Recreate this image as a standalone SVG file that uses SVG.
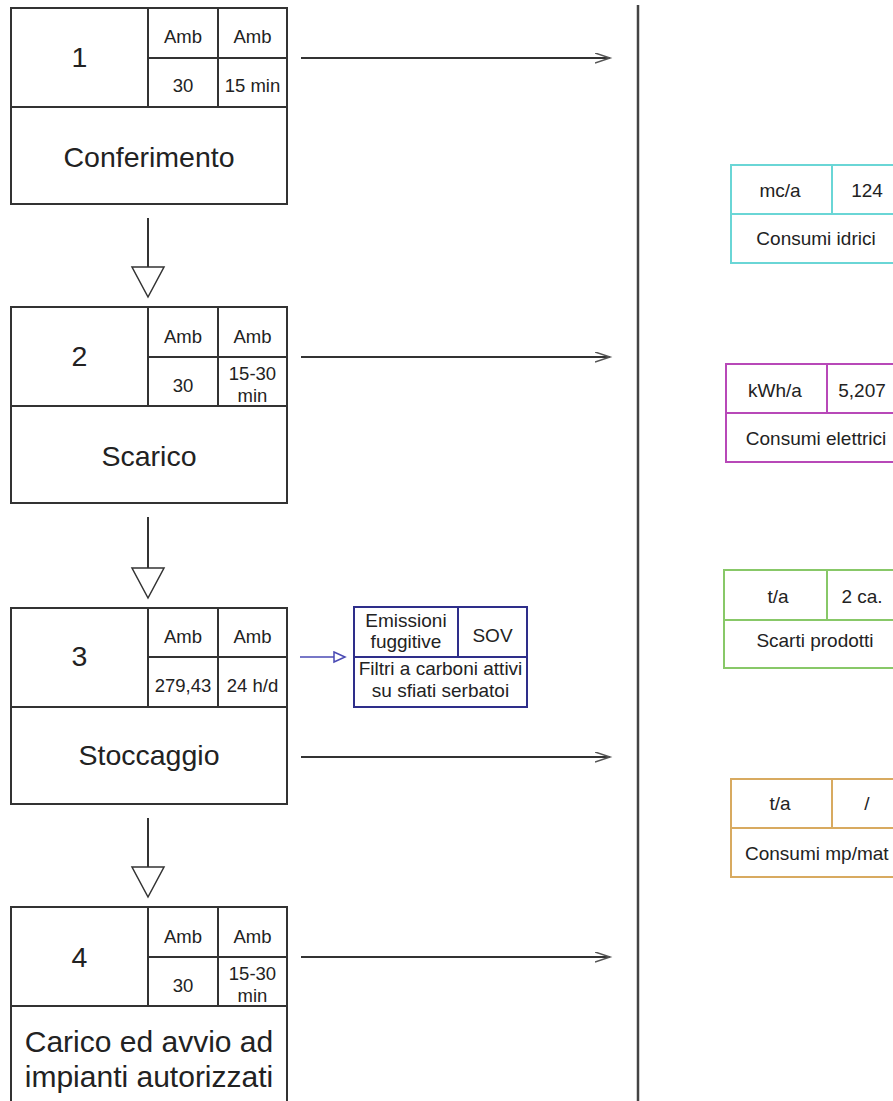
<svg xmlns="http://www.w3.org/2000/svg" width="893" height="1101" viewBox="0 0 893 1101">
<style>
text{font-family:"Liberation Sans",Arial,sans-serif;fill:#222;text-anchor:middle}
.box{fill:#fff;stroke:#333;stroke-width:2}
.ln{stroke:#333;stroke-width:2;fill:none}
.big{font-size:28.5px}
.sm{font-size:18.5px}
.bl{fill:#fff;stroke:#2e2e8a;stroke-width:2}
.bt{font-size:19px}
.rt{font-size:19px}
.con{stroke:#333;stroke-width:2;fill:none}
.tri{fill:#fff;stroke:#333;stroke-width:1.5}
</style>
<defs>
<marker id="chev" markerUnits="userSpaceOnUse" markerWidth="20" markerHeight="14" refX="15" refY="5" orient="auto">
<path d="M0,0 L15,5 L0,10" fill="none" stroke="#555" stroke-width="1.5"/>
</marker>
<marker id="bluehead" markerUnits="userSpaceOnUse" markerWidth="16" markerHeight="14" refX="12" refY="6" orient="auto">
<path d="M1,1 L12,6 L1,11 Z" fill="#fff" stroke="#4a4ab4" stroke-width="1.5"/>
</marker>
</defs>

<g id="node1">
<rect class="box" x="11" y="8" width="276" height="196"/>
<path class="ln" d="M148,8 V107 M218,8 V107 M148,58 H287 M11,107 H287"/>
<text class="big" x="79.5" y="67">1</text>
<text class="sm" x="183" y="43">Amb</text>
<text class="sm" x="252.5" y="43">Amb</text>
<text class="sm" x="183" y="92">30</text>
<text class="sm" x="252.5" y="92">15 min</text>
<text class="big" x="149" y="167">Conferimento</text>
</g>

<g id="node2">
<rect class="box" x="11" y="307" width="276" height="196"/>
<path class="ln" d="M148,307 V406 M218,307 V406 M148,357 H287 M11,406 H287"/>
<text class="big" x="79.5" y="366">2</text>
<text class="sm" x="183" y="343">Amb</text>
<text class="sm" x="252.5" y="343">Amb</text>
<text class="sm" x="183" y="392">30</text>
<text class="sm" x="252.5" y="380">15-30</text>
<text class="sm" x="252.5" y="402">min</text>
<text class="big" x="149" y="466">Scarico</text>
</g>

<g id="node3">
<rect class="box" x="11" y="608" width="276" height="196"/>
<path class="ln" d="M148,608 V707 M218,608 V707 M148,657 H287 M11,707 H287"/>
<text class="big" x="79.5" y="666">3</text>
<text class="sm" x="183" y="643">Amb</text>
<text class="sm" x="252.5" y="643">Amb</text>
<text class="sm" x="183" y="692">279,43</text>
<text class="sm" x="252.5" y="692">24 h/d</text>
<text class="big" x="149" y="765">Stoccaggio</text>
</g>

<g id="node4">
<rect class="box" x="11" y="907" width="276" height="196"/>
<path class="ln" d="M148,907 V1006 M218,907 V1006 M148,957 H287 M11,1006 H287"/>
<text class="big" x="79.5" y="967">4</text>
<text class="sm" x="183" y="943">Amb</text>
<text class="sm" x="252.5" y="943">Amb</text>
<text class="sm" x="183" y="992">30</text>
<text class="sm" x="252.5" y="980">15-30</text>
<text class="sm" x="252.5" y="1002">min</text>
<text style="font-size:30px" x="149" y="1052">Carico ed avvio ad</text>
<text style="font-size:30px" x="149" y="1087">impianti autorizzati</text>
</g>

<g id="emissions">
<rect class="bl" x="354" y="607" width="173" height="100"/>
<path d="M458,607 V657 M354,657 H527" stroke="#2e2e8a" stroke-width="2" fill="none"/>
<text class="bt" x="406" y="627">Emissioni</text>
<text class="bt" x="406" y="648">fuggitive</text>
<text class="bt" x="492.5" y="642">SOV</text>
<text class="bt" x="440.5" y="675">Filtri a carboni attivi</text>
<text class="bt" x="440.5" y="697">su sfiati serbatoi</text>
</g>

<g id="water">
<rect x="731" y="165" width="171" height="98" fill="#fff" stroke="#6ad6d6" stroke-width="2"/>
<path d="M832,165 V214 M731,214 H902" stroke="#6ad6d6" stroke-width="2" fill="none"/>
<text class="rt" x="780" y="197">mc/a</text>
<text class="rt" x="867" y="197">124</text>
<text class="rt" x="816" y="245">Consumi idrici</text>
</g>

<g id="electric">
<rect x="726" y="364" width="177" height="98" fill="#fff" stroke="#b848b8" stroke-width="2"/>
<path d="M827,364 V413 M726,413 H903" stroke="#b848b8" stroke-width="2" fill="none"/>
<text class="rt" x="775" y="397">kWh/a</text>
<text class="rt" x="862" y="397">5,207</text>
<text class="rt" x="816" y="445">Consumi elettrici</text>
</g>

<g id="waste">
<rect x="724" y="570" width="178" height="98" fill="#fff" stroke="#88c868" stroke-width="2"/>
<path d="M827,570 V620 M724,620 H902" stroke="#88c868" stroke-width="2" fill="none"/>
<text class="rt" x="778" y="603">t/a</text>
<text class="rt" x="862" y="603">2 ca.</text>
<text class="rt" x="815" y="647">Scarti prodotti</text>
</g>

<g id="materials">
<rect x="731" y="779" width="171" height="98" fill="#fff" stroke="#d8aa60" stroke-width="2"/>
<path d="M832,779 V828 M731,828 H902" stroke="#d8aa60" stroke-width="2" fill="none"/>
<text class="rt" x="780" y="810">t/a</text>
<text class="rt" x="867" y="810">/</text>
<text class="rt" x="745" y="860" style="text-anchor:start">Consumi mp/mat</text>
</g>

<g id="connectors">
<line x1="638" y1="5" x2="638" y2="1101" stroke="#444" stroke-width="2.5"/>
<path class="con" d="M148,218 V267 M148,517 V568 M148,818 V867"/>
<path class="tri" d="M132,267 H164 L148,297 Z"/>
<path class="tri" d="M132,568 H164 L148,598 Z"/>
<path class="tri" d="M132,867 H164 L148,897 Z"/>
<line class="con" x1="301" y1="58" x2="610" y2="58" marker-end="url(#chev)"/>
<line class="con" x1="301" y1="357" x2="610" y2="357" marker-end="url(#chev)"/>
<line class="con" x1="301" y1="757" x2="610" y2="757" marker-end="url(#chev)"/>
<line class="con" x1="301" y1="957" x2="610" y2="957" marker-end="url(#chev)"/>
<line x1="300" y1="657" x2="345" y2="657" stroke="#4a4ab4" stroke-width="1.5" marker-end="url(#bluehead)"/>
</g>
</svg>
